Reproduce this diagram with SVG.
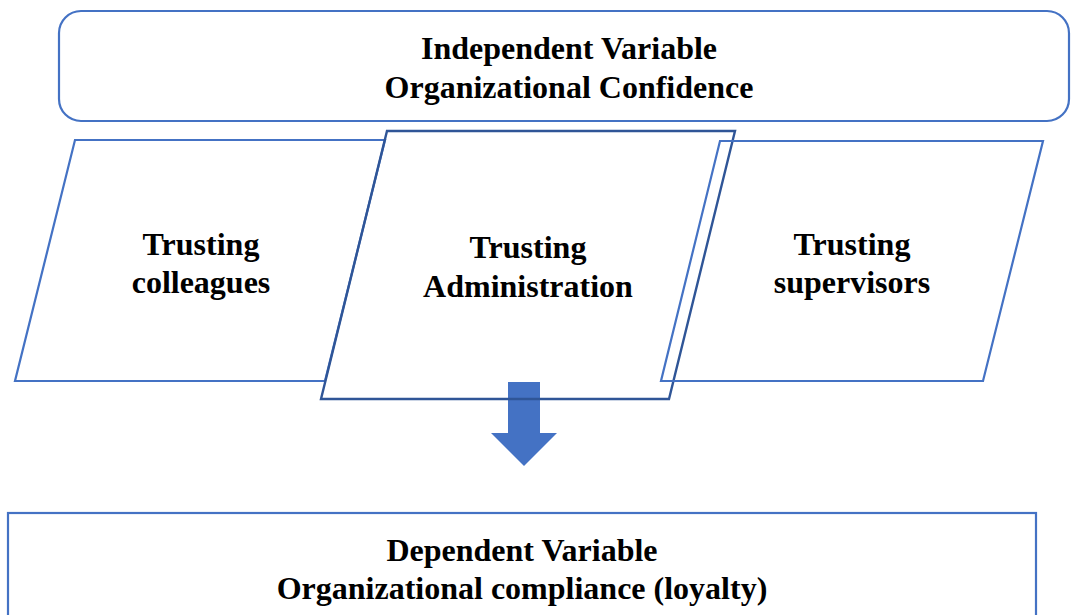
<svg xmlns="http://www.w3.org/2000/svg" width="1072" height="615" viewBox="0 0 1072 615">
  <style>
    .box { fill: #ffffff; stroke: #4472c4; stroke-width: 2.2; }
    .open { fill: none; stroke: #4472c4; stroke-width: 2.2; }
    .dark { fill: none; stroke: #2f5597; stroke-width: 2.4; }
    .lbl { font-family: "Liberation Serif", "Times New Roman", serif; font-weight: bold; font-size: 32px; fill: #000000; text-anchor: middle; }
  </style>
  <rect width="1072" height="615" fill="#ffffff"/>

  <g id="independent-variable">
    <rect class="box" x="59" y="11" width="1010" height="110" rx="22" ry="22"/>
    <text class="lbl" x="569" y="59">Independent Variable</text>
    <text class="lbl" x="569" y="98">Organizational Confidence</text>
  </g>

  <g id="trusting-colleagues">
    <polygon class="box" points="75,140 385,140 325,381 15,381"/>
    <text class="lbl" x="201" y="255">Trusting</text>
    <text class="lbl" x="201" y="293">colleagues</text>
  </g>

  <g id="connectors">
    <!-- block arrow from the confidence dimensions down to the dependent variable -->
    <polygon fill="#4472c4" points="508,382 540,382 540,433 557,433 524,466 491,433 508,433"/>
  </g>

  <g id="trusting-administration">
    <polygon class="dark" points="387,131 735,131 669,399 321,399"/>
    <text class="lbl" x="528" y="258">Trusting</text>
    <text class="lbl" x="528" y="297">Administration</text>
  </g>

  <g id="trusting-supervisors">
    <polygon class="open" points="720,141 1043,141 983,381 661,381"/>
    <text class="lbl" x="852" y="255">Trusting</text>
    <text class="lbl" x="852" y="293">supervisors</text>
  </g>

  <g id="dependent-variable">
    <rect class="box" x="8" y="513" width="1028" height="120"/>
    <text class="lbl" x="522" y="561">Dependent Variable</text>
    <text class="lbl" x="522" y="599">Organizational compliance (loyalty)</text>
  </g>
</svg>
